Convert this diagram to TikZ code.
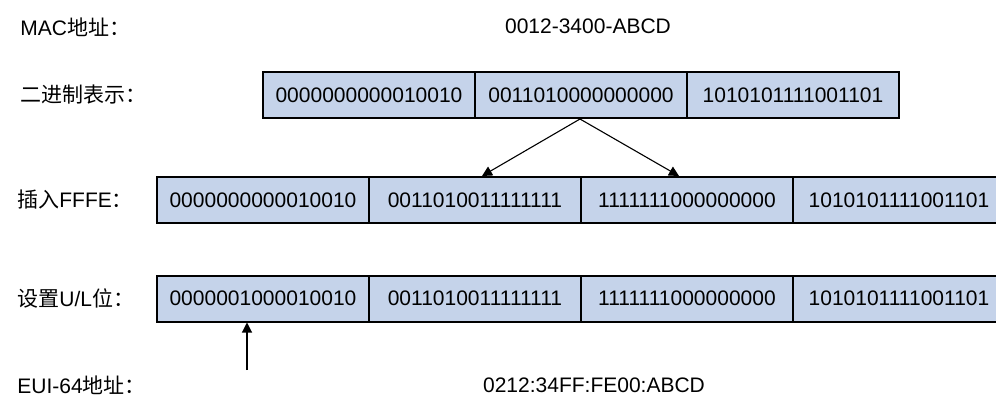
\documentclass[tikz,border=0pt]{standalone}
\usepackage{fontspec}
\setmainfont{Liberation Sans}
\newfontfamily\cjk{Noto Sans CJK SC}
\usetikzlibrary{arrows.meta}
\definecolor{cellblue}{RGB}{197,211,234}
\tikzset{
  x=0.5pt, y=-0.5pt,
  cell/.style={draw=black, fill=cellblue, line width=1pt, minimum width=106pt,
    minimum height=23pt, inner sep=0pt, font=\fontsize{10.5}{12}\selectfont},
  lbl/.style={anchor=west, inner sep=0pt, font=\fontsize{10.5}{12}\selectfont},
  val/.style={inner sep=0pt, font=\fontsize{10.5}{12}\selectfont},
  conn/.style={line width=0.55pt, -{Triangle[width=5pt,length=5pt]}},
}
\begin{document}
\begin{tikzpicture}
\useasboundingbox (0,0) rectangle (996,398);
\clip (0,0) rectangle (996,398);
% labels
\node[lbl] (lmac) at (20,27) {MAC{\cjk 地址：}};
\node[val] (vmac) at (588,26) {0012-3400-ABCD};
\node[lbl] (lbin) at (20,95) {{\cjk 二进制表示：}};
\node[lbl] (lins) at (17,200) {{\cjk 插入}FFFE{\cjk ：}};
\node[lbl] (lset) at (17,298) {{\cjk 设置}U/L{\cjk 位：}};
\node[lbl] (leui) at (17,385) {EUI-64{\cjk 地址：}};
\node[val] (veui) at (594,385) {0212:34FF:FE00:ABCD};
% row 2
\node[cell] (ra) at (369,95) {0000000000010010};
\node[cell] (rb) at (581,95) {0011010000000000};
\node[cell] (rc) at (793,95) {1010101111001101};
% row 3
\node[cell] (sa) at (263,200) {0000000000010010};
\node[cell] (sb) at (475,200) {0011010011111111};
\node[cell] (sc) at (687,200) {1111111000000000};
\node[cell] (sd) at (899,200) {1010101111001101};
% row 4
\node[cell] (ta) at (263,298.5) {0000001000010010};
\node[cell] (tb) at (475,298.5) {0011010011111111};
\node[cell] (tc) at (687,298.5) {1111111000000000};
\node[cell] (td) at (899,298.5) {1010101111001101};
% connectors
\draw[conn] ([xshift=-0.5pt]rb.south) -- ([xshift=3.5pt]sb.north);
\draw[conn] ([xshift=-0.5pt]rb.south) -- ([xshift=-4pt]sc.north);
\coordinate (up) at (247,370);
\draw[conn] (up) -- ([xshift=-8pt]ta.south);
\end{tikzpicture}
\end{document}
